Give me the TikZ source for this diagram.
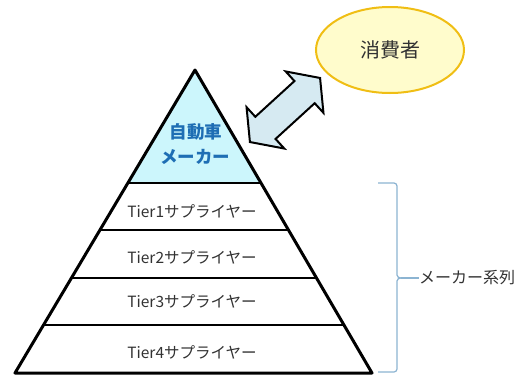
\documentclass[tikz,border=0pt]{standalone}
\usepackage{fontspec}
\setmainfont{Noto Sans CJK JP}
\newfontfamily\jpfont{Noto Sans CJK JP}
\usetikzlibrary{calc,shapes.geometric}
\definecolor{topfill}{RGB}{204,246,252}
\definecolor{topblue}{RGB}{30,110,180}
\definecolor{arrowfill}{RGB}{214,234,242}
\definecolor{ellfill}{RGB}{255,252,204}
\definecolor{elldraw}{RGB}{240,190,20}
\definecolor{bracecol}{RGB}{140,180,210}
\definecolor{txtgray}{RGB}{50,50,50}
\tikzset{
  tierline/.style={line width=1.5pt,black},
  tiertext/.style={font=\jpfont\fontsize{15.5}{17}\selectfont,text=txtgray,inner sep=0pt},
  toptext/.style={font=\jpfont\bfseries\fontsize{17.5}{19}\selectfont,text=topblue,inner sep=0pt},
  outline/.style={line width=3pt,black,line join=round},
}
\begin{document}
\begin{tikzpicture}[x=1pt,y=1pt]
\useasboundingbox[fill=white] (0,0) rectangle (528,-378);
% pyramid corners
\coordinate (A) at (195,-70);
\coordinate (BL) at (15,-373);
\coordinate (BR) at (372,-373);
\coordinate (L1) at ($(A)!0.373!(BL)$);
\coordinate (R1) at ($(A)!0.373!(BR)$);
\coordinate (L2) at ($(A)!0.528!(BL)$);
\coordinate (R2) at ($(A)!0.528!(BR)$);
\coordinate (L3) at ($(A)!0.686!(BL)$);
\coordinate (R3) at ($(A)!0.686!(BR)$);
\coordinate (L4) at ($(A)!0.842!(BL)$);
\coordinate (R4) at ($(A)!0.842!(BR)$);
\fill[topfill] (A) -- (L1) -- (R1) -- cycle;
\draw[tierline] (L1) -- (R1);
\draw[tierline] (L2) -- (R2);
\draw[tierline] (L3) -- (R3);
\draw[tierline] (L4) -- (R4);
\draw[outline] (A) -- (BL) -- (BR) -- cycle;
% texts
\node[toptext] (t0a) at (196,-132) {自動車};
\node[toptext] (t0b) at (195,-157) {メーカー};
\node[tiertext] (t1) at (192,-211) {Tier1サプライヤー};
\node[tiertext] (t2) at (192,-257) {Tier2サプライヤー};
\node[tiertext] (t3) at (192,-301) {Tier3サプライヤー};
\node[tiertext] (t4) at (192,-352) {Tier4サプライヤー};
% consumer ellipse
\node[ellipse,draw=elldraw,fill=ellfill,line width=2pt,minimum width=148pt,minimum height=86pt,
      font=\jpfont\fontsize{20}{22}\selectfont,text=txtgray] (cons) at (390,-50) {消費者};
% double arrow
\begin{scope}[shift={(285,-110)},rotate=42.4]
\draw[line width=2pt,fill=arrowfill,line join=miter] (-47.5,0) -- (-26.5,28) -- (-26.5,15) -- (26.5,15) -- (26.5,28) -- (47.5,0) -- (26.5,-28) -- (26.5,-15) -- (-26.5,-15) -- (-26.5,-28) -- cycle;
\end{scope}
% brace
\coordinate (bt) at (378,-183);
\coordinate (bb) at (378,-372);
\coordinate (bm) at (401,-278);
\draw[bracecol,line width=1.2pt] (bt) -- (394,-183) to[out=0,in=90] (397,-186) -- (397,-275) to[out=-90,in=180] (bm) to[out=180,in=90] (397,-281) -- (397,-369) to[out=-90,in=0] (394,-372) -- (bb);
\node[font=\jpfont\fontsize{16}{18}\selectfont,text=txtgray,anchor=west,inner sep=0pt] (series) at (419,-278) {メーカー系列};
\draw[bracecol,line width=1.2pt] (bm) -- (series.west);
\end{tikzpicture}
\end{document}
